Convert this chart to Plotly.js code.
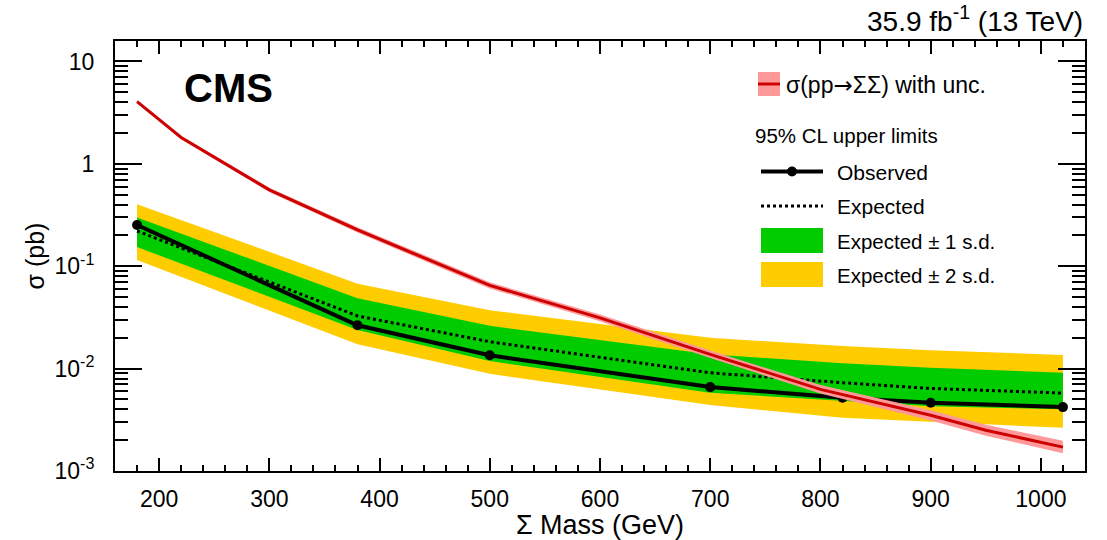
<!DOCTYPE html>
<html><head><meta charset="utf-8">
<script src="https://cdn.plot.ly/plotly-3.0.1.min.js"></script>
<style>html,body{margin:0;padding:0;background:#fff}#chart{width:1107px;height:540px}</style>
</head><body><div id="chart"></div>
<script>
// ---- data ----
const massPoints = [180, 380, 500, 700, 820, 900, 1020];
const observed   = [0.253, 0.0265, 0.0135, 0.0066, 0.0052, 0.00464, 0.00421];
const expected   = [0.221, 0.0327, 0.0183, 0.0091, 0.00728, 0.0064, 0.00577];
const exp1Up     = [0.299, 0.0487, 0.0262, 0.0138, 0.01127, 0.0102, 0.00912];
const exp1Down   = [0.154, 0.0238, 0.01187, 0.0058, 0.00482, 0.0043, 0.0040];
const exp2Up     = [0.404, 0.0676, 0.0371, 0.020, 0.01663, 0.0151, 0.0136];
const exp2Down   = [0.115, 0.0173, 0.0089, 0.0044, 0.00331, 0.00303, 0.00264];

const theoryMass = [180, 220, 300, 380, 500, 600, 700, 800, 900, 950, 1020];
const theoryXsec = [4.06, 1.81, 0.557, 0.226, 0.065, 0.0313, 0.0138, 0.00627, 0.0035, 0.0025, 0.00171];
const theoryUp   = [4.2, 1.88, 0.585, 0.24, 0.0696, 0.0338, 0.0150, 0.0069, 0.00392, 0.00283, 0.00197];
const theoryDown = [3.92, 1.74, 0.53, 0.213, 0.0607, 0.029, 0.0127, 0.0057, 0.00312, 0.00221, 0.00149];

const xTickVals = [200, 300, 400, 500, 600, 700, 800, 900, 1000];
const yTickVals = [0.001, 0.01, 0.1, 1, 10];
const yTickText = ['10<sup>-3</sup>', '10<sup>-2</sup>', '10<sup>-1</sup>', '1', '10'];

// ---- helpers ----
function band(x, up, down) {
  return { x: x.concat(x.slice().reverse()), y: up.concat(down.slice().reverse()) };
}
const yb2 = band(massPoints, exp2Up, exp2Down);
const yb1 = band(massPoints, exp1Up, exp1Down);
const tb = band(theoryMass, theoryUp, theoryDown);

const GREEN = '#00cc00', YELLOW = '#ffcc00', RED = '#cc0000', PINK = '#ff9999';
const FONT = 'Liberation Sans, Arial, Helvetica, sans-serif';

const traces = [
  { x: yb2.x, y: yb2.y, type: 'scatter', mode: 'lines', fill: 'toself', fillcolor: YELLOW,
    line: { width: 0, color: YELLOW }, hoverinfo: 'skip', showlegend: false },
  { x: yb1.x, y: yb1.y, type: 'scatter', mode: 'lines', fill: 'toself', fillcolor: GREEN,
    line: { width: 0, color: GREEN }, hoverinfo: 'skip', showlegend: false },
  { x: massPoints, y: expected, type: 'scatter', mode: 'lines',
    line: { color: 'black', width: 3, dash: 'dot' }, showlegend: false },
  { x: massPoints, y: observed, type: 'scatter', mode: 'lines+markers',
    line: { color: 'black', width: 4 }, marker: { color: 'black', size: 10 }, showlegend: false },
  { x: tb.x, y: tb.y, type: 'scatter', mode: 'lines', fill: 'toself', fillcolor: PINK,
    line: { width: 0, color: PINK }, hoverinfo: 'skip', showlegend: false },
  { x: theoryMass, y: theoryXsec, type: 'scatter', mode: 'lines',
    line: { color: RED, width: 3 }, showlegend: false }
];

// minor tick positions on the log axis (2..9 per decade)
const yMinor = [];
for (let e = -3; e <= 1; e++) for (let d = 2; d <= 9; d++) yMinor.push(d * Math.pow(10, e));

// legend drawn as decoration, in pixel -> paper conversion
const L = 115, R = 1085, T = 41, B = 471;
const px = x => (x - L) / (R - L);
const py = y => (B - y) / (B - T);
const shapes = [
  { type: 'rect', xref: 'paper', yref: 'paper', x0: px(758), x1: px(780), y0: py(72), y1: py(96),
    fillcolor: PINK, line: { width: 0 } },
  { type: 'line', xref: 'paper', yref: 'paper', x0: px(758), x1: px(780), y0: py(84), y1: py(84),
    line: { color: RED, width: 3 } },
  { type: 'line', xref: 'paper', yref: 'paper', x0: px(761), x1: px(823), y0: py(171.5), y1: py(171.5),
    line: { color: 'black', width: 4 } },
  { type: 'circle', xref: 'paper', yref: 'paper', x0: px(787), x1: px(797), y0: py(166.5), y1: py(176.5),
    fillcolor: 'black', line: { width: 0 } },
  { type: 'line', xref: 'paper', yref: 'paper', x0: px(761), x1: px(823), y0: py(206), y1: py(206),
    line: { color: 'black', width: 3, dash: 'dot' } },
  { type: 'rect', xref: 'paper', yref: 'paper', x0: px(761), x1: px(823), y0: py(228), y1: py(253),
    fillcolor: GREEN, line: { width: 0 } },
  { type: 'rect', xref: 'paper', yref: 'paper', x0: px(761), x1: px(823), y0: py(262), y1: py(287),
    fillcolor: YELLOW, line: { width: 0 } }
];
const ann = (x, y, text, size, extra) => Object.assign({
  xref: 'paper', yref: 'paper', x: px(x), y: py(y), text: text, showarrow: false,
  xanchor: 'left', yanchor: 'middle', font: { family: FONT, size: size, color: 'black' }
}, extra || {});
const annotations = [
  ann(784, 85, 'σ(pp<span style="font-family:DejaVu Sans">→</span>ΣΣ) with unc.', 23),
  ann(753, 136, '95% CL upper limits', 20.5),
  ann(835, 172, 'Observed', 21),
  ann(835, 206, 'Expected', 21),
  ann(835, 241, 'Expected ± 1 s.d.', 20.5),
  ann(835, 275, 'Expected ± 2 s.d.', 20.5),
  ann(182, 88, '<b>CMS</b>', 40),
  { xref: 'paper', yref: 'paper', x: 1, y: py(19), xanchor: 'right', yanchor: 'middle', showarrow: false,
    text: '35.9 fb<sup>-1</sup> (13 TeV)', font: { family: FONT, size: 28, color: 'black' } }
];

const layout = {
  width: 1107, height: 540,
  margin: { l: L, r: 1107 - R, t: T, b: 540 - B, pad: 0 },
  paper_bgcolor: 'white', plot_bgcolor: 'white',
  font: { family: FONT, color: 'black' },
  showlegend: false,
  xaxis: {
    range: [160, 1040], tickmode: 'array', tickvals: xTickVals,
    ticks: 'inside', ticklen: 13, tickwidth: 2, tickcolor: 'black',
    showline: true, linewidth: 2, linecolor: 'black', mirror: 'ticks',
    showgrid: false, zeroline: false,
    tickfont: { family: FONT, size: 23 }, ticklabelstandoff: 6,
    minor: { dtick: 20, tick0: 0, ticks: 'inside', ticklen: 6, tickwidth: 2, tickcolor: 'black', showgrid: false },
    title: { text: 'Σ Mass (GeV)', font: { family: FONT, size: 27 }, standoff: 3 }
  },
  yaxis: {
    type: 'log', range: [-3, 1.2], tickmode: 'array', tickvals: yTickVals, ticktext: yTickText,
    ticks: 'inside', ticklen: 27, tickwidth: 2, tickcolor: 'black',
    showline: true, linewidth: 2, linecolor: 'black', mirror: 'ticks',
    showgrid: false, zeroline: false,
    tickfont: { family: FONT, size: 23 }, ticklabelstandoff: 14,
    minor: { tickmode: 'array', tickvals: yMinor, ticks: 'inside', ticklen: 13, tickwidth: 2, tickcolor: 'black', showgrid: false },
    title: { text: 'σ (pb)', font: { family: FONT, size: 25 }, standoff: 3 }
  },
  shapes: shapes,
  annotations: annotations
};

Plotly.newPlot('chart', traces, layout, { displayModeBar: false, staticPlot: true });
</script>
</body></html>
